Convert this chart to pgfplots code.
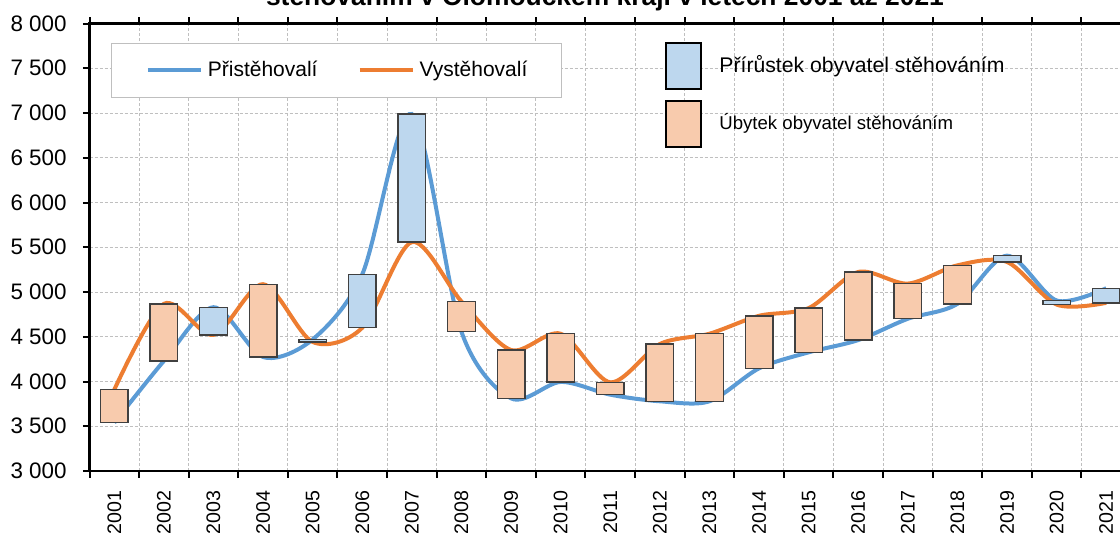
\documentclass[border=0pt]{standalone}
\usepackage{fontspec}
\setmainfont{Liberation Sans}
\setsansfont{Liberation Sans}
\usepackage{pgfplots}
\usepackage{pgfplotstable}
\pgfplotsset{compat=1.18}

\definecolor{cblue}{HTML}{5B9BD5}
\definecolor{corange}{HTML}{ED7D31}
\definecolor{boxblue}{HTML}{BDD7EE}
\definecolor{boxpeach}{HTML}{F8CBAD}
\definecolor{boxedge}{HTML}{404040}
\definecolor{gridc}{HTML}{BFBFBF}

% i = year index (1 = 2001), prist = Přistěhovalí, vyst = Vystěhovalí
\pgfplotstableread{
i  prist vyst
1  3540  3909
2  4230  4868
3  4830  4520
4  4274  5087
5  4470  4442
6  5198  4601
7  6989  5558
8  4556  4894
9  3812  4352
10 3995  4534
11 3853  3991
12 3779  4419
13 3779  4534
14 4147  4734
15 4326  4820
16 4463  5224
17 4701  5094
18 4868  5298
19 5406  5336
20 4905  4860
21 5042  4879
}\data

\begin{document}
\begin{tikzpicture}
\clip (0,0) rectangle (560pt,266pt);
\begin{axis}[
    scale only axis,
    at={(44.75pt,30.5pt)}, anchor=south west,
    width=520.75pt, height=223.75pt,
    xmin=0.5, xmax=21.5,
    ymin=3000, ymax=8000,
    ytick={3000,3500,...,8000},
    scaled y ticks=false,
    /pgf/number format/.cd, 1000 sep={\ }, assume math mode=true,
    /pgfplots/.cd,
    xtick={1,...,21},
    xticklabels={2001,2002,2003,2004,2005,2006,2007,2008,2009,2010,2011,2012,2013,2014,2015,2016,2017,2018,2019,2020,2021},
    major x tick style={draw=none},
    minor xtick={0.5,1.5,...,21.5},
    xminorgrids, ymajorgrids,
    minor grid style={gridc, line width=0.5pt, dash pattern=on 1.5pt off 1pt},
    major grid style={gridc, line width=0.5pt, dash pattern=on 1.5pt off 1pt},
    tick align=outside,
    major tick length=3.25pt, minor tick length=3.25pt,
    tick style={black, line width=1pt},
    axis line style={black, line width=1.25pt},
    yticklabel style={font=\fontsize{11.2}{13}\selectfont, anchor=east, inner sep=0pt, xshift=-8pt},
    xticklabel style={font=\fontsize{9.8}{11}\selectfont, rotate=90, anchor=east, inner sep=0pt, xshift=-6.5pt},
    legend columns=2,
    legend image code/.code={\draw[#1] (0pt,0pt) -- (26.5pt,0pt);},
    legend style={at={(0.021,0.957)}, anchor=north west,
        draw=black!25, line width=0.5pt, fill=white,
        font=\fontsize{10.5}{12}\selectfont,
        inner xsep=17pt, inner ysep=9pt,
        nodes={inner sep=0pt},
        /tikz/every odd column/.append style={column sep=2.5pt},
        /tikz/every even column/.append style={column sep=20pt}},
]
\addplot[cblue, line width=2pt, smooth] table[x=i, y=prist]{\data};
\addlegendentry{Přistěhovalí}
\addplot[corange, line width=2pt, smooth] table[x=i, y=vyst]{\data};
\addlegendentry{Vystěhovalí}

% boxes between the two values, blue for growth, peach for loss
\pgfplotsforeachungrouped \r in {0,...,20}{%
  \pgfplotstablegetelem{\r}{i}\of\data \let\xc\pgfplotsretval
  \pgfplotstablegetelem{\r}{prist}\of\data \let\vp\pgfplotsretval
  \pgfplotstablegetelem{\r}{vyst}\of\data \let\vv\pgfplotsretval
  \pgfmathsetmacro\xl{\xc-0.278}%
  \pgfmathsetmacro\xr{\xc+0.278}%
  \ifdim\vp pt>\vv pt \def\bfill{boxblue}\else\def\bfill{boxpeach}\fi
  \edef\temp{\noexpand\addplot[draw=boxedge, line width=0.7pt, fill=\bfill, forget plot]
    coordinates {(\xl,\vv) (\xr,\vv) (\xr,\vp) (\xl,\vp)} -- cycle;}%
  \temp
}
\end{axis}

% title (cut at the top) and second legend, in pixel units of the reference
\begin{scope}[x=0.5pt, y=-0.5pt, shift={(0,266pt)}]
\node[anchor=base, inner sep=0pt, font=\bfseries\fontsize{13.2}{15}\selectfont]
    at (605,5.7) {stěhováním v Olomouckém kraji v letech 2001 až 2021};
\draw[black, line width=0.9pt, fill=boxblue] (666,43) rectangle (701,89);
\draw[black, line width=0.9pt, fill=boxpeach] (666,101) rectangle (701,147);
\node[anchor=west, inner sep=0pt, font=\fontsize{10.6}{12}\selectfont]
    at (719,66.5) {Přírůstek obyvatel stěhováním};
\node[anchor=west, inner sep=0pt, font=\fontsize{9.3}{11}\selectfont]
    at (719,123) {Úbytek obyvatel stěhováním};
\end{scope}
\end{tikzpicture}
\end{document}
